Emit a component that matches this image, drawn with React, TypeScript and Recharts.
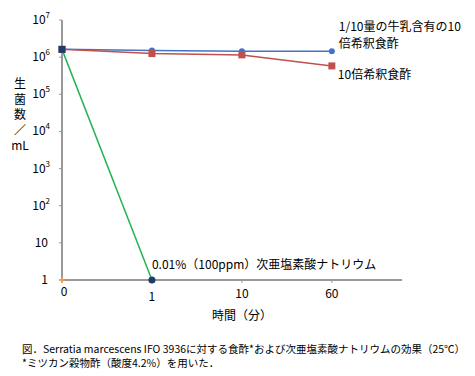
import React from 'react';
import { LineChart, Line, XAxis, YAxis } from 'recharts';

const categories = ['0', '1', '10', '60'];
const vinegarMilk = [1.62e6, 1.5e6, 1.45e6, 1.45e6];
const vinegar = [1.62e6, 1.25e6, 1.15e6, 5.8e5];
const hypochlorite = [1.62e6, 1, null, null];
const control = [1, null, null, null];
const yTicks = [1, 10, 100, 1000, 10000, 100000, 1000000, 10000000];

const labelMilk = ['1/10量の牛乳含有の10', '倍希釈食酢'];
const labelVinegar = '10倍希釈食酢';
const labelHypo = '0.01%（100ppm）次亜塩素酸ナトリウム';
const xTitle = '時間（分）';
const yTitle = ['生', '菌', '数', '／', 'mL'];
const caption = [
  '図．Serratia marcescens IFO 3936に対する食酢*および次亜塩素酸ナトリウムの効果（25℃）',
  '*ミツカン穀物酢（酸度4.2%）を用いた．',
];

const data = categories.map((c, i) => ({
  x: i,
  milk: vinegarMilk[i],
  vin: vinegar[i],
  hypo: hypochlorite[i],
  ctrl: control[i],
}));

const FONT = '"Noto Sans CJK JP", "Noto Sans", sans-serif';

const YTick = (props: any) => {
  const { x, y, payload } = props;
  const v = payload.value as number;
  const exp = Math.round(Math.log10(v));
  if (exp <= 1) {
    return (
      <text x={x - 9} y={y} dy={4} textAnchor="end" fontSize={12} fill="#000" fontFamily={FONT}>
        {String(v)}
      </text>
    );
  }
  return (
    <text x={x - 7} y={y} dy={4} textAnchor="end" fontSize={12} fill="#000" fontFamily={FONT}>
      10
      <tspan fontSize={8} dy={-6}>{exp}</tspan>
    </text>
  );
};

const XTick = (props: any) => {
  const { x, y, payload } = props;
  const i = payload.value as number;
  const offs = [11, 16, 13, 13];
  return (
    <text x={x + (i === 0 ? 2 : 0)} y={y + offs[i]} textAnchor="middle" fontSize={12} fill="#000" fontFamily={FONT}>
      {categories[i]}
    </text>
  );
};

const BlueDot = (props: any) => {
  const { cx, cy, index } = props;
  if (cy == null || isNaN(cy)) return null;
  return (
    <g key={`b${index}`}>
      <circle cx={cx} cy={cy} r={3} fill="#4472C4" />
      {index === 3 && (
        <text fontSize={12} fill="#000" fontFamily={FONT}>
          <tspan x={cx + 7} y={cy - 20}>{labelMilk[0]}</tspan>
          <tspan x={cx + 7} y={cy - 3}>{labelMilk[1]}</tspan>
        </text>
      )}
    </g>
  );
};

const RedDot = (props: any) => {
  const { cx, cy, index } = props;
  if (cy == null || isNaN(cy)) return null;
  return (
    <g key={`r${index}`}>
      <rect x={cx - 3.5} y={cy - 3.5} width={7} height={7} fill="#C0504D" />
      {index === 3 && (
        <text x={cx + 6} y={cy + 13} fontSize={12} fill="#000" fontFamily={FONT}>
          {labelVinegar}
        </text>
      )}
    </g>
  );
};

const GreenDot = (props: any) => {
  const { cx, cy, index } = props;
  if (cy == null || isNaN(cy)) return null;
  return (
    <g key={`g${index}`}>
      {index === 0 ? (
        <rect x={cx - 3.5} y={cy - 3.5} width={7} height={7} fill="#1F3B6E" />
      ) : (
        <circle cx={cx} cy={cy} r={3.5} fill="#1F3B6E" />
      )}
      {index === 1 && (
        <text x={cx} y={cy - 11} fontSize={12} fill="#000" fontFamily={FONT}>
          {labelHypo}
        </text>
      )}
    </g>
  );
};

const CtrlDot = (props: any) => {
  const { cx, cy, index } = props;
  if (cy == null || isNaN(cy)) return null;
  return (
    <g key={`c${index}`}>
      <line x1={cx - 3} y1={cy} x2={cx + 3} y2={cy} stroke="#F79646" strokeWidth={1.5} />
      <line x1={cx} y1={cy - 3} x2={cx} y2={cy + 3} stroke="#F79646" strokeWidth={1.5} />
    </g>
  );
};

export default function App() {
  return (
    <div style={{ position: 'absolute', left: 0, top: 0, width: 475, height: 376, background: '#fff', fontFamily: FONT }}>
      <LineChart
        width={475}
        height={376}
        data={data}
        margin={{ top: 20, right: 73, bottom: 66, left: 2 }}
      >
        <XAxis
          dataKey="x"
          type="number"
          domain={[0, 3.78]}
          ticks={[0, 1, 2, 3]}
          tick={<XTick />}
          tickSize={3}
          height={30}
          axisLine={{ stroke: '#999', strokeWidth: 2 }}
          tickLine={{ stroke: '#999' }}
        />
        <YAxis
          type="number"
          scale="log"
          domain={[1, 10000000]}
          ticks={yTicks}
          tick={<YTick />}
          tickSize={3}
          width={60}
          axisLine={{ stroke: '#999', strokeWidth: 2 }}
          tickLine={{ stroke: '#999' }}
          interval={0}
        />
        <Line dataKey="milk" stroke="#4472C4" strokeWidth={1.5} dot={<BlueDot />} isAnimationActive={false} />
        <Line dataKey="vin" stroke="#C0504D" strokeWidth={1.5} dot={<RedDot />} isAnimationActive={false} />
        <Line dataKey="hypo" stroke="#22B452" strokeWidth={1.5} dot={<GreenDot />} isAnimationActive={false} />
        <Line dataKey="ctrl" stroke="#F79646" strokeWidth={1.5} dot={<CtrlDot />} isAnimationActive={false} />
      </LineChart>
      <div style={{ position: 'absolute', left: 242, top: 306, transform: 'translateX(-50%)', fontSize: 12, whiteSpace: 'nowrap' }}>
        {xTitle}
      </div>
      <div style={{ position: 'absolute', left: 9, top: 75, width: 22, textAlign: 'center', fontSize: 12, lineHeight: '15.5px' }}>
        {yTitle.map((t, i) => (
          <div key={i}>{t}</div>
        ))}
      </div>
      <div style={{ position: 'absolute', left: 22, top: 342, fontSize: 10.5, lineHeight: '14px', whiteSpace: 'nowrap' }}>
        <div>{caption[0]}</div>
        <div>{caption[1]}</div>
      </div>
    </div>
  );
}
